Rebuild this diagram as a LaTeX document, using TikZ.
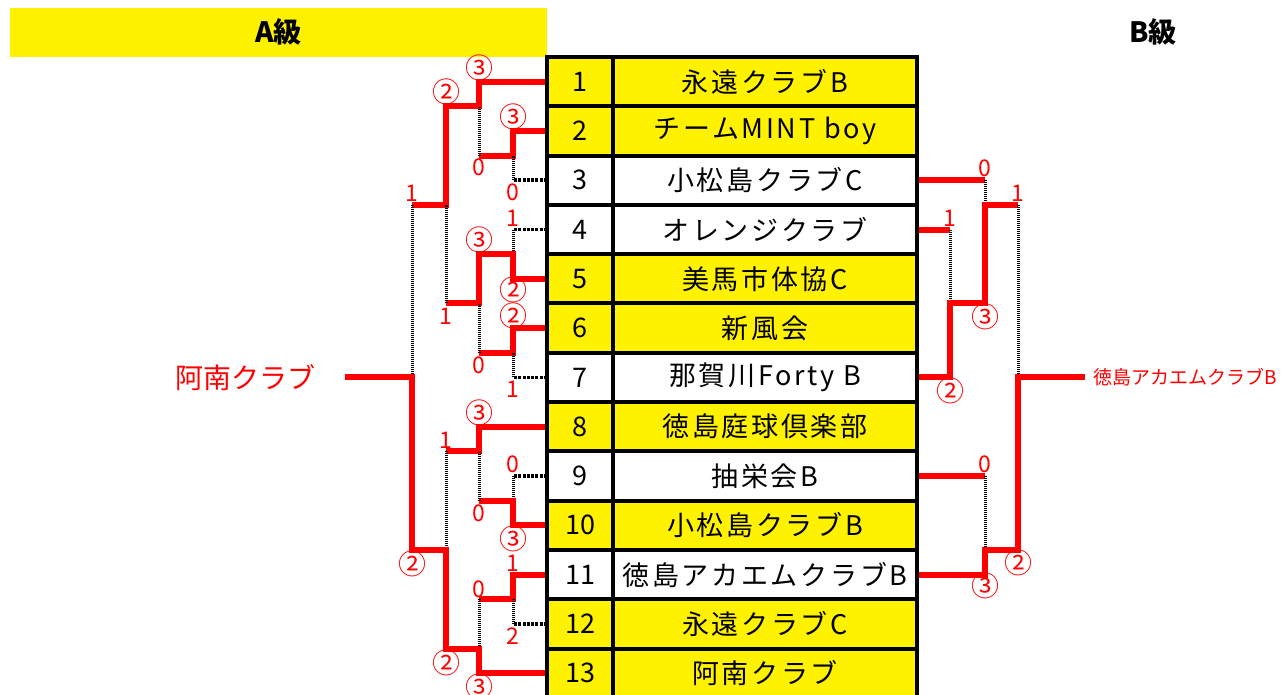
\documentclass[tikz,border=0pt]{standalone}
\usepackage{fontspec}
\usepackage{xcolor}
\setmainfont{Noto Sans CJK JP}
\newfontfamily\clubfont[LetterSpace=10]{Noto Sans CJK JP}
\usetikzlibrary{positioning}
\pgfdeclarelayer{lines}
\pgfsetlayers{lines,main}
\tikzset{
	nocell/.style={draw, line width=4pt, minimum width=66pt, minimum height=49.3pt,
		inner sep=0pt, outer sep=0pt, font=\fontsize{27}{30}\selectfont},
	clubcell/.style={nocell, minimum width=304pt, font=\clubfont\fontsize{27}{30}\selectfont},
	win/.style={red, line width=6pt},
	lossv/.style={black, line width=3pt, dash pattern=on 1pt off 1pt},
	lossh/.style={black, line width=3.5pt, dash pattern=on 3pt off 1.3pt},
	score/.style={text=red, inner sep=0pt, font=\fontsize{23}{25}\selectfont},
	round/.style={score, font=\fontsize{28}{30}\selectfont},
}

\begin{document}
\begin{tikzpicture}[x=1pt, y=-24.65pt]
% one y unit is half a row, the table starts at y=0
\useasboundingbox (0,-57/24.65) rectangle (1283,638/24.65);

\node[fill=yellow, minimum width=537pt, minimum height=49pt, inner sep=0pt,
	font=\bfseries\fontsize{28}{30}\selectfont] (headA) at (278.5,-1) {A級};
\node[font=\bfseries\fontsize{28}{30}\selectfont] (headB) at (1153,-1) {B級};

\foreach \i/\club/\cellc in {1/永遠クラブB/yellow, 2/チームMINT boy/yellow,
	3/小松島クラブC/white, 4/オレンジクラブ/white, 5/美馬市体協C/yellow,
	6/新風会/yellow, 7/那賀川Forty B/white, 8/徳島庭球倶楽部/yellow,
	9/抽栄会B/white, 10/小松島クラブB/yellow, 11/徳島アカエムクラブB/white,
	12/永遠クラブC/yellow, 13/阿南クラブ/yellow}{
	\node[nocell, fill=\cellc] (no\i) at (580,2*\i-1) {\i};
	\node[clubcell, fill=\cellc] (club\i) at (765,2*\i-1) {\club};
}

\node[text=red, font=\fontsize{28}{30}\selectfont] (champA) at (245,13) {阿南クラブ};
\node[text=red, anchor=west, inner sep=0pt, font=\fontsize{19}{21}\selectfont] (champB) at (1093,13) {徳島アカエムクラブB};

% A級 bracket
\coordinate (LA) at (513,4);
\coordinate (LB) at (479,2);
\coordinate (LC) at (513,8);
\coordinate (LD) at (513,12);
\coordinate (LE) at (479,10);
\coordinate (LF) at (446,6);
\coordinate (LG) at (513,18);
\coordinate (LH) at (479,16);
\coordinate (LI) at (513,22);
\coordinate (LJ) at (479,24);
\coordinate (LK) at (446,20);
\coordinate (LL) at (412,13);
\coordinate (tipA) at (345,13);
% B級 bracket
\coordinate (RA) at (950,10);
\coordinate (RB) at (985,6);
\coordinate (RC) at (985,20);
\coordinate (RD) at (1018,13);
\coordinate (tipB) at (1085,13);

\begin{pgfonlayer}{lines}
	\draw[win] (no1.west) -| (LB) -| (LF) -- (LF -| LL);
	\draw[lossv] (LF -| LL) -- (LL);
	\draw[win] (no2.west) -| (LA) -- (LA -| LB);
	\draw[lossv] (LA -| LB) -- (LB);
	\draw[lossh] (no3.west) -- (no3.west -| LA);
	\draw[lossv] (no3.west -| LA) -- (LA);
	\draw[lossh] (no4.west) -- (no4.west -| LC);
	\draw[lossv] (no4.west -| LC) -- (LC);
	\draw[win] (no5.west) -| (LC) -- (LC -| LE) -- (LE) -- (LE -| LF);
	\draw[lossv] (LE -| LF) -- (LF);
	\draw[win] (no6.west) -| (LD) -- (LD -| LE);
	\draw[lossv] (LD -| LE) -- (LE);
	\draw[lossh] (no7.west) -- (no7.west -| LD);
	\draw[lossv] (no7.west -| LD) -- (LD);
	\draw[win] (no8.west) -| (LH) -- (LH -| LK);
	\draw[lossv] (LH -| LK) -- (LK);
	\draw[lossh] (no9.west) -- (no9.west -| LG);
	\draw[lossv] (no9.west -| LG) -- (LG);
	\draw[win] (no10.west) -| (LG) -- (LG -| LH);
	\draw[lossv] (LG -| LH) -- (LH);
	\draw[win] (no11.west) -| (LI) -- (LI -| LJ);
	\draw[lossv] (LI -| LJ) -- (LJ);
	\draw[lossh] (no12.west) -- (no12.west -| LI);
	\draw[lossv] (no12.west -| LI) -- (LI);
	\draw[win] (no13.west) -| (LJ) -- (LJ -| LK) -- (LK) -- (LK -| LL) -- (LL) -- (tipA);

	\draw[win] (club3.east) -- (club3.east -| RB);
	\draw[lossv] (club3.east -| RB) -- (RB);
	\draw[win] (club4.east) -- (club4.east -| RA);
	\draw[lossv] (club4.east -| RA) -- (RA);
	\draw[win] (club7.east) -| (RA) -- (RA -| RB) -- (RB) -- (RB -| RD);
	\draw[lossv] (RB -| RD) -- (RD);
	\draw[win] (club9.east) -- (club9.east -| RC);
	\draw[lossv] (club9.east -| RC) -- (RC);
	\draw[win] (club11.east) -| (RC) -- (RC -| RD) -- (RD) -- (tipB);
\end{pgfonlayer}

% scores
\node[round, above=1pt] (sa1) at (no1.west -| LB) {③};
\node[round, above=1pt] (sa2) at (LB -| LF) {②};
\node[round, above=1pt] (sa3) at (no2.west -| LA) {③};
\node[score, below=3pt] (sa4) at (LA -| LB) {0};
\node[score, below=3pt] (sa5) at (no3.west -| LA) {0};
\node[score, above=3pt] (sa6) at (no4.west -| LC) {1};
\node[score, above=3pt] (sa7) at (LF -| LL) {1};
\node[round, above=1pt] (sa8) at (LC -| LE) {③};
\node[round, below=-2pt] (sa9) at (no5.west -| LC) {②};
\node[score, below=4pt] (sa10) at (LE -| LF) {1};
\node[round, above=-1pt] (sa11) at (no6.west -| LD) {②};
\node[score, below=4pt] (sa12) at (LD -| LE) {0};
\node[score, below=3pt] (sa13) at (no7.west -| LD) {1};
\node[round, above=1pt] (sa14) at (no8.west -| LH) {③};
\node[score, above=3pt] (sa15) at (LH -| LK) {1};
\node[score, above=3pt] (sa16) at (no9.west -| LG) {0};
\node[score, below=4pt] (sa17) at (LG -| LH) {0};
\node[round, below=0pt] (sa18) at (no10.west -| LG) {③};
\node[round, below=1pt] (sa19) at (LK -| LL) {②};
\node[score, above=3pt] (sa20) at (no11.west -| LI) {1};
\node[score, above=1pt] (sa21) at (LI -| LJ) {0};
\node[score, below=4pt] (sa22) at (no12.west -| LI) {2};
\node[round, below=1pt] (sa23) at (LJ -| LK) {②};
\node[round, below=0pt] (sa24) at (no13.west -| LJ) {③};

\node[score, above=3pt] (sb1) at (club3.east -| RB) {0};
\node[score, above=3pt] (sb2) at (club4.east -| RA) {1};
\node[score, above=3pt] (sb3) at (RB -| RD) {1};
\node[round, below=0pt] (sb4) at (RA -| RB) {③};
\node[round, below=0pt] (sb5) at (club7.east -| RA) {②};
\node[score, above=3pt] (sb6) at (club9.east -| RC) {0};
\node[round, below=0pt] (sb7) at (RC -| RD) {②};
\node[round, below=-2pt] (sb8) at (club11.east -| RC) {③};
\end{tikzpicture}
\end{document}
